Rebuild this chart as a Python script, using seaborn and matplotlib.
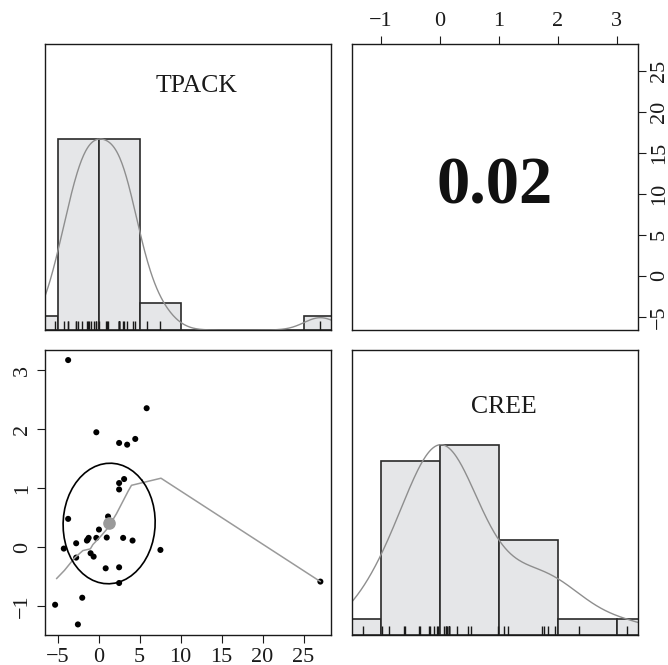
import numpy as np
import matplotlib
matplotlib.use("Agg")
import matplotlib.pyplot as plt
import seaborn as sns

# scores (x = TPACK, y = CREE)
tpack = [-3.73, 5.85, -0.29, 2.49, 3.47, 4.46, 3.10, 2.49, 2.49, -3.73,
         1.14, 0.03, -2.75, -1.44, -1.23, -0.29, 0.98, 2.98, 4.13, -4.26,
         7.53, -0.99, -0.62, -2.75, 0.85, 2.49, 2.49, -2.01, -5.32, -2.54,
         27.05, -1.35]
cree = [3.17, 2.355, 1.948, 1.767, 1.738, 1.835, 1.156, 1.088, 0.98, 0.482,
        0.522, 0.301, 0.069, 0.115, 0.16, 0.16, 0.166, 0.16, 0.115, -0.021,
        -0.044, -0.10, -0.157, -0.174, -0.355, -0.338, -0.604, -0.853, -0.972, -1.305,
        -0.58, 0.13]

# smoother through the scatter, vertices
smooth_x = [-5.15, -4.18, -2.95, -1.93, -1.02, -0.71, 0.33, 1.13, 2.17, 3.59, 4.0, 7.6, 27.05]
smooth_y = [-0.53, -0.39, -0.18, -0.055, -0.026, 0.047, 0.20, 0.33, 0.57, 0.95, 1.05, 1.17, -0.58]

names = ["TPACK", "CREE"]
tpack_breaks = [-10, -5, 0, 5, 10, 15, 20, 25, 30]
cree_breaks = [-2, -1, 0, 1, 2, 3, 4]
tpack_ticks = [-5, 0, 5, 10, 15, 20, 25]
cree_ticks = [-1, 0, 1, 2, 3]
r_label = "0.02"

hist_fill = "#e5e6e8"
edge = "#2a2a2a"
gray = "#8e8e8e"

sns.set_style("ticks")
plt.rcParams["font.family"] = ["Liberation Serif", "DejaVu Serif"]
plt.rcParams["axes.edgecolor"] = "#1a1a1a"
plt.rcParams["axes.linewidth"] = 1.0


def pad_range(v):
    lo, hi = min(v), max(v)
    return lo - 0.04 * (hi - lo), hi + 0.04 * (hi - lo)


def r_density(v):
    # gaussian density like R's density(bw="nrd", adjust=1.2), scaled to max 1
    v = np.asarray(v, dtype=float)
    q1, q3 = np.percentile(v, [25, 75])
    bw = 1.06 * min(v.std(ddof=1), (q3 - q1) / 1.34) * len(v) ** -0.2 * 1.2
    grid = np.linspace(v.min() - 3 * bw, v.max() + 3 * bw, 512)
    d = np.exp(-0.5 * ((grid[:, None] - v[None, :]) / bw) ** 2).sum(axis=1)
    return grid, d / d.max()


def diag_panel(ax, v, breaks, name, lim, lab_xy):
    sns.histplot(x=v, bins=breaks, ax=ax, color=hist_fill, edgecolor=edge,
                 linewidth=1.2, alpha=1)
    top = np.histogram(v, bins=breaks)[0].max()
    gx, gy = r_density(v)
    ax.plot(gx, gy * top, color=gray, lw=1.0)
    sns.rugplot(x=v, ax=ax, height=0.03, color="#1a1a1a", lw=0.8)
    ax.set_xlim(lim)
    ax.set_ylim(0, 1.5 * top)
    ax.set_xticks([])
    ax.set_yticks([])
    ax.set_xlabel("")
    ax.set_ylabel("")
    ax.text(lab_xy[0], lab_xy[1], name, transform=ax.transAxes, ha="center",
            va="center", fontsize=18.5, color="#1a1a1a")


W, H = 668, 665
fig = plt.figure(figsize=(W / 100, H / 100), dpi=100)


def box(l, t, r, b):
    return [l / W, 1 - b / H, (r - l) / W, (b - t) / H]


ax_tl = fig.add_axes(box(44.5, 43.5, 331, 330))
ax_tr = fig.add_axes(box(352, 43.5, 637.5, 330))
ax_bl = fig.add_axes(box(44.5, 349.5, 331, 635))
ax_br = fig.add_axes(box(352, 349.5, 637.5, 635))

xlim = pad_range(tpack)
ylim = pad_range(cree)

diag_panel(ax_tl, tpack, tpack_breaks, names[0], xlim, (0.531, 0.85))
diag_panel(ax_br, cree, cree_breaks, names[1], ylim, (0.532, 0.80))

# scatter panel
x = np.asarray(tpack)
y = np.asarray(cree)
sns.scatterplot(x=x, y=y, ax=ax_bl, color="black", s=19, edgecolor="none", linewidth=0)
ax_bl.plot(smooth_x, smooth_y, color="#9a9a9a", lw=1.1)

# correlation ellipse at one standard deviation (as in psych::draw.ellipse)
xm, ym = x.mean(), y.mean()
xs, ys = x.std(ddof=1), y.std(ddof=1)
r = np.corrcoef(x, y)[0, 1]
theta = (np.sign(r) if r != 0 else 1) / np.sqrt(2)
ang = np.linspace(0, 2 * np.pi, 52)
a, b = np.sqrt(1 + r), np.sqrt(1 - r)
ex = (np.cos(ang) * a * theta - np.sin(ang) * b * theta) * xs + xm
ey = (np.cos(ang) * a * theta + np.sin(ang) * b * theta) * ys + ym
ax_bl.plot(ex, ey, color="black", lw=1.2)
ax_bl.scatter([xm], [ym], s=65, color="#9a9a9a", zorder=4)

ax_bl.set_xlim(xlim)
ax_bl.set_ylim(ylim)
ax_bl.set_xticks(tpack_ticks)
ax_bl.set_yticks(cree_ticks)
ax_bl.set_xlabel("")
ax_bl.set_ylabel("")
ax_bl.tick_params(axis="both", direction="out", length=5.5, width=0.8,
                  labelsize=16, pad=3.5, colors="#1a1a1a")
ax_bl.tick_params(axis="y", labelrotation=90)
for lab in ax_bl.get_yticklabels():
    lab.set_va("center")

# correlation panel
ax_tr.set_xlim(ylim)
ax_tr.set_ylim(xlim)
ax_tr.set_xticks(cree_ticks)
ax_tr.set_yticks(tpack_ticks)
ax_tr.xaxis.tick_top()
ax_tr.yaxis.tick_right()
ax_tr.tick_params(axis="both", direction="out", length=5.5, width=0.8,
                  labelsize=16, pad=3.5, colors="#1a1a1a")
ax_tr.tick_params(axis="y", labelrotation=90)
for lab in ax_tr.get_yticklabels():
    lab.set_va("center")
ax_tr.text(0.5, 0.5, r_label, transform=ax_tr.transAxes, ha="center", va="center",
           fontsize=48, fontweight="bold", color="#111111")

for ax in (ax_tl, ax_tr, ax_bl, ax_br):
    for sp in ax.spines.values():
        sp.set_visible(True)
        sp.set_color("#1a1a1a")
        sp.set_linewidth(1.0)

fig.savefig("out.png", dpi=100)
